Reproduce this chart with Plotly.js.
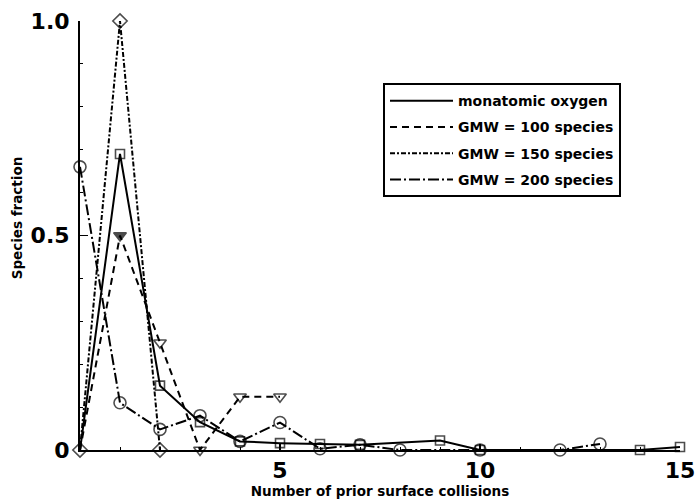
<!DOCTYPE html>
<html>
<head>
<meta charset="utf-8">
<script src="https://cdn.plot.ly/plotly-3.0.1.min.js"></script>
<style>html,body{margin:0;padding:0;background:#fff;}</style>
</head>
<body>
<div id="chart" style="width:698px;height:501px;"></div>
<script>
// Data
var seriesNames = ["monatomic oxygen", "GMW = 100 species", "GMW = 150 species", "GMW = 200 species"];
var xOxygen = [0, 1, 2, 3, 4, 5, 6, 7, 9, 10, 14, 15];
var yOxygen = [0, 0.69, 0.15, 0.065, 0.02, 0.016, 0.014, 0.012, 0.022, 0, 0, 0.007];
var xGmw100 = [0, 1, 2, 3, 4, 5];
var yGmw100 = [0, 0.5, 0.25, 0, 0.124, 0.124];
var xGmw150 = [0, 1, 2];
var yGmw150 = [0, 1.0, 0];
var xGmw200 = [0, 1, 2, 3, 4, 5, 6, 7, 8, 10, 12, 13];
var yGmw200 = [0.66, 0.11, 0.048, 0.08, 0.02, 0.064, 0.003, 0.012, 0, 0, 0, 0.014];
var yTickVals = [0, 0.5, 1];
var yTickText = ["0", "0.5", "1.0"];
var xTickVals = [0, 5, 10, 15];
var xTickText = ["", "5", "10", "15"];
var xTitle = "Number of prior surface collisions";
var yTitle = "Species fraction";

var FONT = "DejaVu Sans, Liberation Sans, Arial, sans-serif";

function lineTrace(x, y, name, dash, grp) {
  return {x: x, y: y, name: name, type: "scatter", mode: "lines", legendgroup: grp,
    line: {color: "#000", width: 2, dash: dash}, cliponaxis: false, showlegend: true};
}
function markerTrace(x, y, symbols, size, hideOrigin, grp) {
  return {x: x, y: y, type: "scatter", mode: "markers", showlegend: false, cliponaxis: false,
    hoverinfo: "skip", legendgroup: grp,
    marker: {symbol: symbols, size: x.map(function (v) { return (hideOrigin && v === 0) ? 0 : size; }),
      color: "#000", line: {color: "#000", width: 1.6}}};
}

var tri = xGmw100.map(function (v, i) { return i === 1 ? "triangle-down" : "triangle-down-open"; });

var data = [
  lineTrace(xOxygen, yOxygen, seriesNames[0], "solid", "g0"),
  lineTrace(xGmw100, yGmw100, seriesNames[1], "7px,5px", "g1"),
  lineTrace(xGmw150, yGmw150, seriesNames[2], "5px,2px,2px,2px", "g2"),
  lineTrace(xGmw200, yGmw200, seriesNames[3], "11px,3px,2px,3px", "g3"),
  markerTrace(xOxygen, yOxygen, "square-open", 9, true, "g0"),
  markerTrace(xGmw100, yGmw100, tri, 11, true, "g1"),
  markerTrace(xGmw150, yGmw150, "diamond-open", 11, false, "g2"),
  markerTrace(xGmw200, yGmw200, "circle-open", 12, false, "g3")
];

var layout = {
  width: 698, height: 501,
  margin: {l: 80, r: 18, t: 21, b: 51, pad: 0},
  paper_bgcolor: "#fff", plot_bgcolor: "#fff",
  font: {family: FONT, color: "#000"},
  showlegend: true,
  legend: {
    x: 0.505, y: 0.855, xanchor: "left", yanchor: "top",
    bordercolor: "#000", borderwidth: 2, bgcolor: "#fff",
    font: {family: FONT, size: 14, color: "#000", weight: "bold"},
    itemwidth: 63, tracegroupgap: 5
  },
  xaxis: {
    range: [0, 15], showgrid: false, zeroline: false,
    showline: true, linecolor: "#000", linewidth: 2,
    ticks: "inside", ticklen: 6, tickwidth: 1.5, tickcolor: "#000",
    tickvals: xTickVals, ticktext: xTickText,
    minor: {dtick: 1, ticks: "inside", ticklen: 3, tickcolor: "#000", tickwidth: 1},
    tickfont: {family: FONT, size: 22, weight: "bold"},
    title: {text: xTitle, standoff: 2,
      font: {family: FONT, size: 13.5, weight: "bold"}}
  },
  yaxis: {
    range: [0, 1], showgrid: false, zeroline: false,
    showline: true, linecolor: "#000", linewidth: 2,
    ticks: "inside", ticklen: 8, tickwidth: 1.5, tickcolor: "#000",
    tickvals: yTickVals, ticktext: yTickText,
    minor: {dtick: 0.1, ticks: "inside", ticklen: 3, tickcolor: "#000", tickwidth: 1},
    tickfont: {family: FONT, size: 22, weight: "bold"},
    ticklabelstandoff: 4
  },
  annotations: [{
    text: yTitle, xref: "paper", yref: "paper", x: -0.105, y: 0.54,
    xanchor: "center", yanchor: "middle", textangle: -90, showarrow: false,
    font: {family: FONT, size: 13.5, weight: "bold", color: "#000"}
  }]
};

Plotly.newPlot("chart", data, layout, {displayModeBar: false, staticPlot: true});
</script>
</body>
</html>
